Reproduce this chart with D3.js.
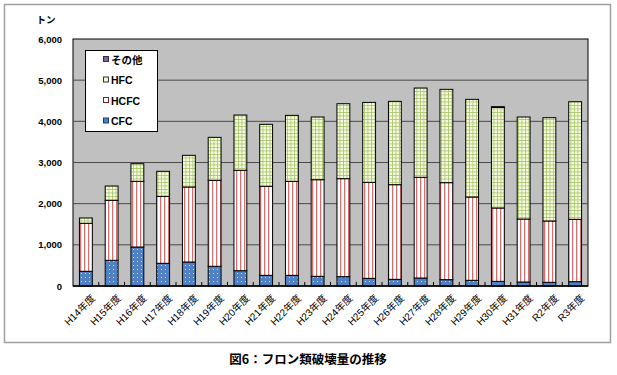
<!DOCTYPE html>
<html lang="ja">
<head>
    <meta charset="UTF-8">
    <title>フロン類破壊量の推移</title>
    <style>
        body {
            margin: 0;
            background: #fff;
            font-family: "Liberation Sans", Arial, "Noto Sans CJK JP", sans-serif;
        }
    </style>
</head>
<body>
<script src="https://d3js.org/d3.v7.min.js"></script>
<script>
    // data (トン)
    const categories = ["H14年度", "H15年度", "H16年度", "H17年度", "H18年度", "H19年度", "H20年度",
        "H21年度", "H22年度", "H23年度", "H24年度", "H25年度", "H26年度", "H27年度", "H28年度",
        "H29年度", "H30年度", "H31年度", "R2年度", "R3年度"];
    const cfc = [357, 624, 947, 551, 583, 478, 372, 259, 259, 235, 227, 186, 162, 194, 154, 138, 113, 97, 89, 105];
    const hcfc = [1166, 1457, 1595, 1627, 1822, 2089, 2438, 2162, 2283, 2347, 2380, 2332, 2299, 2446, 2356, 2024, 1782, 1530, 1490, 1514];
    const hfc = [129, 348, 429, 608, 769, 1044, 1343, 1506, 1603, 1523, 1821, 1942, 2024, 2169, 2267, 2372, 2441, 2478, 2510, 2858];
    const other = [0, 0, 0, 0, 0, 0, 0, 0, 0, 0, 0, 0, 0, 0, 0, 0, 20, 0, 0, 0];
    const yTicks = [0, 1000, 2000, 3000, 4000, 5000, 6000];

    const width = 617, height = 375;
    const plot = {left: 73, right: 588, top: 39, bottom: 286};

    const svg = d3.select("body").append("svg")
        .attr("width", width)
        .attr("height", height);

    // fill patterns
    const defs = svg.append("defs");
    const pCfc = defs.append("pattern").attr("id", "p-cfc").attr("patternUnits", "userSpaceOnUse")
        .attr("width", 4).attr("height", 4);
    pCfc.append("rect").attr("width", 4).attr("height", 4).attr("fill", "#4f81c4");
    pCfc.append("rect").attr("x", 1).attr("y", 1).attr("width", 1).attr("height", 1).attr("fill", "#c8daf0");

    const pHcfc = defs.append("pattern").attr("id", "p-hcfc").attr("patternUnits", "userSpaceOnUse")
        .attr("width", 4).attr("height", 4);
    pHcfc.append("rect").attr("width", 4).attr("height", 4).attr("fill", "#fff");
    pHcfc.append("rect").attr("x", 0).attr("width", 1.3).attr("height", 4).attr("fill", "#c0504d").attr("opacity", 0.8);

    const pHfc = defs.append("pattern").attr("id", "p-hfc").attr("patternUnits", "userSpaceOnUse")
        .attr("width", 3.5).attr("height", 3.5);
    pHfc.append("rect").attr("width", 3.5).attr("height", 3.5).attr("fill", "#f6fadc");
    pHfc.append("rect").attr("width", 3.5).attr("height", 0.8).attr("fill", "#a8c56c");
    pHfc.append("rect").attr("width", 0.8).attr("height", 3.5).attr("fill", "#a8c56c");

    const series = [
        {key: "cfc", name: "CFC", fill: "url(#p-cfc)", swatch: "#4f81c4", stroke: "#1f3f6f"},
        {key: "hcfc", name: "HCFC", fill: "url(#p-hcfc)", swatch: "#fff", stroke: "#8b1a1a"},
        {key: "hfc", name: "HFC", fill: "url(#p-hfc)", swatch: "#f2f7d4", stroke: "#333"},
        {key: "other", name: "その他", fill: "#8064a2", swatch: "#8064a2", stroke: "#333"}
    ];

    const rows = categories.map((c, i) => ({cat: c, cfc: cfc[i], hcfc: hcfc[i], hfc: hfc[i], other: other[i]}));
    const stacked = d3.stack().keys(series.map(s => s.key))(rows);

    // outer frame
    svg.append("rect")
        .attr("x", 4.5).attr("y", 4.5).attr("width", 606).attr("height", 338)
        .attr("fill", "#fff").attr("stroke", "#a0a0a0").attr("stroke-width", 1.5);

    const x = d3.scaleBand().domain(categories).range([plot.left, plot.right]).paddingInner(0.5).paddingOuter(0.25);
    const y = d3.scaleLinear().domain([0, 6000]).range([plot.bottom, plot.top]);

    // plot area
    svg.append("rect")
        .attr("x", plot.left).attr("y", plot.top)
        .attr("width", plot.right - plot.left).attr("height", plot.bottom - plot.top)
        .attr("fill", "#c0c0c0").attr("stroke", "#000").attr("stroke-width", 1);

    // grid
    svg.append("g").selectAll("line")
        .data(yTicks.filter(d => d > 0 && d < 6000))
        .join("line")
        .attr("x1", plot.left).attr("x2", plot.right)
        .attr("y1", d => y(d)).attr("y2", d => y(d))
        .attr("stroke", "#4a4a4a").attr("stroke-width", 1);

    // y axis labels
    const yAxis = svg.append("g")
        .attr("transform", `translate(${plot.left},0)`)
        .call(d3.axisLeft(y).tickValues(yTicks).tickSize(0).tickPadding(11).tickFormat(d3.format(",")));
    yAxis.select(".domain").remove();
    yAxis.selectAll("text")
        .attr("font-size", 9.5).attr("font-weight", "bold").attr("fill", "#000")
        .attr("font-family", "'Liberation Sans', Arial, sans-serif");

    svg.append("text")
        .attr("x", 46).attr("y", 23)
        .attr("text-anchor", "middle")
        .attr("font-size", 9.5).attr("font-weight", "bold")
        .attr("font-family", "'Noto Sans CJK JP', sans-serif")
        .text("トン");

    // bars
    svg.append("g").selectAll("g")
        .data(stacked)
        .join("g")
        .attr("fill", (d, i) => series[i].fill)
        .selectAll("rect")
        .data(d => d.filter(v => v[1] > v[0]))
        .join("rect")
        .attr("x", d => x(d.data.cat))
        .attr("y", d => y(d[1]))
        .attr("width", x.bandwidth())
        .attr("height", d => y(d[0]) - y(d[1]))
        .attr("stroke", "#000")
        .attr("stroke-width", 1);

    // x axis: line, boundary ticks, rotated labels
    svg.append("line")
        .attr("x1", plot.left).attr("x2", plot.right).attr("y1", plot.bottom).attr("y2", plot.bottom)
        .attr("stroke", "#000").attr("stroke-width", 1.5);
    svg.append("g").selectAll("line")
        .data(d3.range(1, categories.length))
        .join("line")
        .attr("x1", i => plot.left + i * x.step()).attr("x2", i => plot.left + i * x.step())
        .attr("y1", plot.bottom).attr("y2", plot.bottom - 4)
        .attr("stroke", "#000");

    svg.append("g").selectAll("text")
        .data(categories)
        .join("text")
        .attr("transform", d => `translate(${x(d) + x.bandwidth() / 2 + 5},${plot.bottom + 8}) rotate(-45)`)
        .attr("text-anchor", "end")
        .attr("dy", "0.7em")
        .attr("font-size", 10)
        .attr("font-family", "'Liberation Sans', Arial, 'Noto Sans CJK JP', sans-serif")
        .text(d => d);

    // legend
    const legend = svg.append("g");
    legend.append("rect")
        .attr("x", 85.5).attr("y", 50.5).attr("width", 72).attr("height", 81)
        .attr("fill", "#fff").attr("stroke", "#000");
    const items = series.slice().reverse();
    const li = legend.selectAll("g.item")
        .data(items)
        .join("g")
        .attr("class", "item")
        .attr("transform", (d, i) => `translate(103,${60 + i * 20.5})`);
    li.append("rect")
        .attr("x", 0.5).attr("y", -3.5).attr("width", 5).attr("height", 5)
        .attr("fill", d => d.swatch).attr("stroke", d => d.stroke);
    li.append("text")
        .attr("x", 8).attr("y", 0)
        .attr("dy", "0.35em")
        .attr("font-size", 10.5).attr("font-weight", "bold")
        .attr("font-family", "'Liberation Sans', Arial, 'Noto Sans CJK JP', sans-serif")
        .text(d => d.name);

    // caption
    svg.append("text")
        .attr("x", 308).attr("y", 364)
        .attr("text-anchor", "middle")
        .attr("font-size", 12.5).attr("font-weight", "bold")
        .attr("font-family", "'Noto Sans CJK JP', sans-serif")
        .text("図6：フロン類破壊量の推移");
</script>
</body>
</html>
